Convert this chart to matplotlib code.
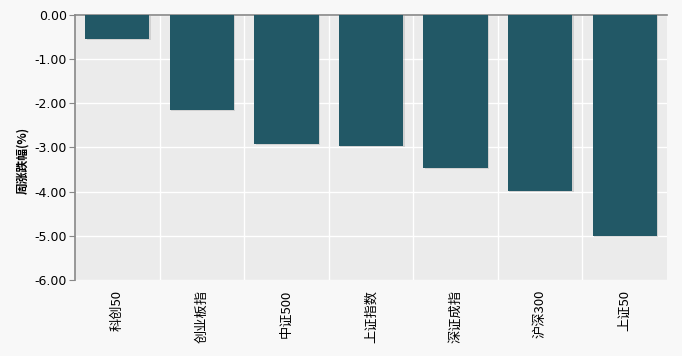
import matplotlib.pyplot as plt
import matplotlib.patheffects as pe
import numpy as np

plt.rcParams['font.family'] = ['Noto Sans CJK SC', 'DejaVu Sans']

categories = ['科创50', '创业板指', '中证500', '上证指数', '深证成指', '沪深300', '上证50']
values = [-0.54, -2.15, -2.92, -2.96, -3.46, -3.98, -5.00]

fig = plt.figure(figsize=(6.82, 3.56), dpi=100, facecolor='#f8f8f8')
ax = fig.add_axes([0.110, 0.2135, 0.868, 0.7445])
ax.set_facecolor('#ebebeb')

x = np.arange(len(categories))
bars = ax.bar(x, values, width=0.76, color='#225866', zorder=3)
for b in bars:
    b.set_path_effects([pe.SimplePatchShadow(offset=(1, -1), shadow_rgbFace='#aaaaaa', alpha=0.4), pe.Normal()])

ax.set_xlim(-0.5, len(categories) - 0.5)
ax.set_ylim(-6, 0)
ax.set_yticks(np.arange(-6, 0.01, 1))
ax.set_yticklabels([f'{v:.2f}' for v in np.arange(-6, 0.01, 1)], fontsize=9, family='DejaVu Sans')
ax.set_xticks(x)
ax.set_xticklabels(categories, rotation=90, fontsize=9.5, va='top')
ax.set_xticks(np.arange(0.5, len(categories) - 1, 1), minor=True)
ax.tick_params(axis='x', which='both', length=0, pad=7)
ax.tick_params(axis='y', length=4, color='#888888', pad=2)

ax.grid(axis='y', color='white', linewidth=1, zorder=0)
ax.grid(axis='x', which='minor', color='white', linewidth=1, zorder=0)

for s in ['right', 'bottom']:
    ax.spines[s].set_visible(False)
for s in ['top', 'left']:
    ax.spines[s].set_color('#888888')
    ax.spines[s].set_linewidth(1.2)

ax.set_ylabel('周涨跌幅(%)', fontsize=8.5, fontweight='bold')
ax.yaxis.set_label_coords(-0.078, 0.45)

plt.savefig('out.png', dpi=100, facecolor=fig.get_facecolor())
